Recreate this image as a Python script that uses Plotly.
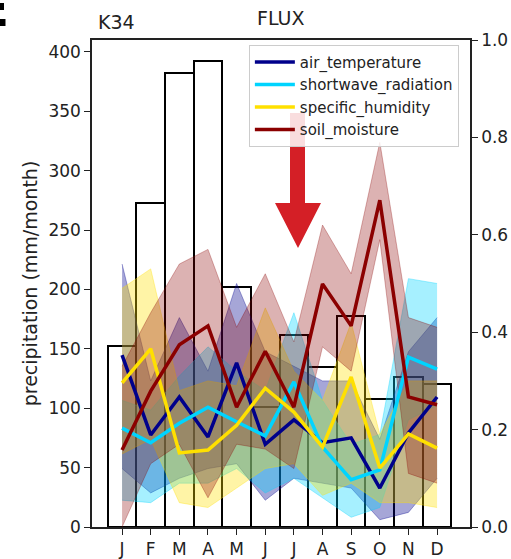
import plotly.graph_objects as go

months = ["J", "F", "M", "A", "M", "J", "J", "A", "S", "O", "N", "D"]
x_idx = list(range(12))

precip = [152, 273, 382, 392, 202, 101, 162, 135, 178, 108, 126, 120]

air_temperature = [0.353, 0.189, 0.267, 0.185, 0.337, 0.170, 0.220, 0.173, 0.183, 0.080, 0.193, 0.267]
air_hi = [0.54, 0.30, 0.43, 0.32, 0.50, 0.36, 0.33, 0.30, 0.30, 0.18, 0.36, 0.43]
air_lo = [0.12, 0.07, 0.10, 0.12, 0.13, 0.055, 0.10, 0.09, 0.08, 0.015, 0.03, 0.10]

shortwave_radiation = [0.203, 0.173, 0.213, 0.246, 0.216, 0.187, 0.298, 0.164, 0.097, 0.117, 0.349, 0.324]
sw_hi = [0.26, 0.24, 0.31, 0.37, 0.32, 0.28, 0.44, 0.26, 0.17, 0.19, 0.51, 0.50]
sw_lo = [0.055, 0.05, 0.09, 0.09, 0.12, 0.07, 0.10, 0.06, 0.02, 0.04, 0.22, 0.25]

specific_humidity = [0.296, 0.366, 0.152, 0.158, 0.209, 0.285, 0.236, 0.164, 0.308, 0.121, 0.191, 0.162]
sh_hi = [0.49, 0.53, 0.28, 0.30, 0.29, 0.45, 0.32, 0.26, 0.42, 0.19, 0.30, 0.30]
sh_lo = [0.15, 0.18, 0.05, 0.04, 0.08, 0.12, 0.13, 0.065, 0.09, 0.05, 0.05, 0.04]

soil_moisture = [0.158, 0.279, 0.374, 0.413, 0.246, 0.361, 0.246, 0.499, 0.413, 0.671, 0.267, 0.251]
sm_hi = [0.33, 0.44, 0.54, 0.57, 0.41, 0.52, 0.38, 0.62, 0.52, 0.79, 0.43, 0.41]
sm_lo = [0.00, 0.13, 0.17, 0.06, 0.17, 0.16, 0.12, 0.37, 0.32, 0.59, 0.11, 0.09]

series = [
    ("air_temperature", air_temperature, air_hi, air_lo, "#00008B", "rgba(0,0,139,0.35)"),
    ("shortwave_radiation", shortwave_radiation, sw_hi, sw_lo, "#00D4FF", "rgba(0,212,255,0.35)"),
    ("specific_humidity", specific_humidity, sh_hi, sh_lo, "#FFE000", "rgba(255,224,0,0.35)"),
    ("soil_moisture", soil_moisture, sm_hi, sm_lo, "#8B0000", "rgba(139,0,0,0.3)"),
]

FONT = "DejaVu Sans"
fig = go.Figure()

fig.add_trace(go.Bar(
    x=x_idx, y=precip, width=1.0, yaxis="y",
    marker=dict(color="rgba(0,0,0,0)", line=dict(color="black", width=2)),
    showlegend=False, hoverinfo="skip",
))

for name, mean, hi, lo, col, fcol in series:
    fig.add_trace(go.Scatter(x=x_idx, y=hi, yaxis="y2", mode="lines",
                             line=dict(color=fcol, width=1), showlegend=False, hoverinfo="skip"))
    fig.add_trace(go.Scatter(x=x_idx, y=lo, yaxis="y2", mode="lines", fill="tonexty",
                             fillcolor=fcol, line=dict(color=fcol, width=1),
                             showlegend=False, hoverinfo="skip"))

for name, mean, hi, lo, col, fcol in series:
    fig.add_trace(go.Scatter(x=x_idx, y=mean, yaxis="y2", mode="lines", name=name,
                             line=dict(color=col, width=3.5)))

# red arrow overlay (paper coords)
def px(xp):
    return (xp - 92) / 378

def py(yp):
    return (527 - yp) / 487

arrow = (f"M {px(290)} {py(113)} L {px(305)} {py(113)} L {px(305)} {py(203)} "
         f"L {px(321)} {py(203)} L {px(298)} {py(248)} L {px(275)} {py(203)} "
         f"L {px(290)} {py(203)} Z")

axis_common = dict(showgrid=False, zeroline=False, showline=True, automargin=False,
                   linecolor="#222", linewidth=1.5, ticks="outside", ticklen=6,
                   tickcolor="#222", tickwidth=1.3, tickfont=dict(size=17))

fig.update_layout(
    width=511, height=559,
    margin=dict(l=92, r=41, t=40, b=32, autoexpand=False),
    paper_bgcolor="white", plot_bgcolor="white",
    font=dict(family=FONT, size=16, color="#222"),
    showlegend=True,
    bargap=0,
    xaxis=dict(range=[-1.05, 12.15], tickvals=x_idx, ticktext=months, mirror=True,
               **axis_common),
    yaxis=dict(range=[0, 410], tickvals=[0, 50, 100, 150, 200, 250, 300, 350, 400],
               title=dict(text="precipitation (mm/month)", font=dict(size=19), standoff=6),
               **axis_common),
    yaxis2=dict(range=[0, 1.0], overlaying="y", side="right",
                tickvals=[0, 0.2, 0.4, 0.6, 0.8, 1.0], tickformat=".1f",
                **axis_common),
    legend=dict(x=0.415, y=0.99, xanchor="left", yanchor="top", traceorder="normal",
                bgcolor="rgba(255,255,255,0.85)", bordercolor="#ccc", borderwidth=1,
                font=dict(size=15, color="#222"), tracegroupgap=0, itemwidth=40),
    shapes=[dict(type="path", path=arrow, xref="paper", yref="paper",
                 fillcolor="#D41F26", line=dict(width=0), layer="above")],
    annotations=[
        dict(text="K34", xref="paper", yref="paper", x=px(96), y=py(22), xanchor="left",
             yanchor="middle", showarrow=False, font=dict(size=19, color="#222")),
        dict(text="FLUX", xref="paper", yref="paper", x=0.5, y=py(18), xanchor="center",
             yanchor="middle", showarrow=False, font=dict(size=19, color="#222")),
        dict(text="<b>E</b>", xref="paper", yref="paper", x=px(11), y=py(9), xanchor="right",
             yanchor="middle", showarrow=False, font=dict(size=50, color="black")),
    ],
)

fig.write_html("out.html", config=dict(displayModeBar=False),
               post_script="document.body.style.margin='0';")
